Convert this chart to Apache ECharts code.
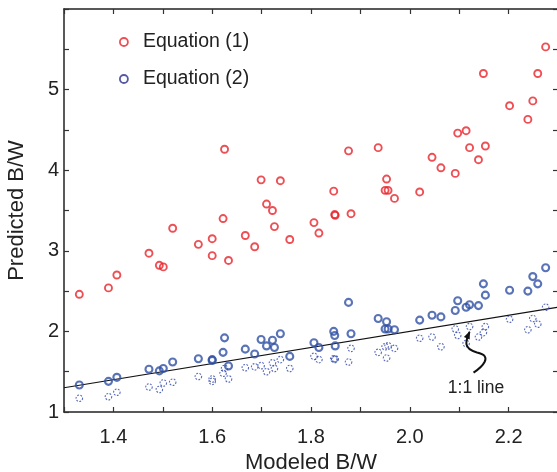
<!DOCTYPE html>
<html>
<head>
<meta charset="utf-8">
<script src="https://cdn.jsdelivr.net/npm/echarts@6/dist/echarts.min.js"></script>
<style>html,body{margin:0;padding:0;background:#fff}#c{width:557px;height:472px}</style>
</head>
<body>
<div id="c"></div>
<script>
// Modeled B/W (x) shared by all three sets
const modeled = [1.331,1.390,1.407,1.472,1.493,1.501,1.520,1.572,1.600,1.600,1.622,1.625,1.633,1.667,1.686,1.699,1.710,1.722,1.726,1.738,1.757,1.806,1.816,1.846,1.848,1.849,1.876,1.881,1.936,1.950,1.953,1.956,1.969,2.020,2.045,2.063,2.092,2.097,2.114,2.121,2.139,2.149,2.153,2.202,2.239,2.249,2.259,2.275];
// Predicted B/W, Equation (1)
const eq1 = [2.46,2.54,2.70,2.97,2.82,2.80,3.28,3.08,3.15,2.94,3.40,4.26,2.88,3.19,3.05,3.88,3.58,3.50,3.30,3.87,3.14,3.35,3.22,3.74,3.45,3.44,4.24,3.46,4.28,3.75,3.89,3.75,3.65,3.73,4.16,4.03,3.96,4.46,4.49,4.28,4.13,5.20,4.30,4.80,4.63,4.86,5.20,5.53];
// Predicted B/W, Equation (2)
const eq2 = [1.335,1.38,1.43,1.53,1.51,1.54,1.62,1.66,1.65,1.64,1.74,1.92,1.57,1.78,1.72,1.90,1.82,1.89,1.80,1.97,1.69,1.86,1.80,2.00,1.95,1.82,2.36,1.97,2.16,2.03,2.12,2.03,2.02,2.14,2.20,2.18,2.26,2.38,2.30,2.33,2.32,2.59,2.45,2.51,2.50,2.68,2.59,2.79];
// Predicted B/W, dotted (unlabelled) set
const eq3 = [1.17,1.19,1.245,1.31,1.28,1.36,1.37,1.44,1.41,1.38,1.48,1.54,1.41,1.55,1.56,1.575,1.50,1.61,1.54,1.65,1.54,1.69,1.65,1.66,1.65,1.66,1.62,1.79,1.74,1.81,1.67,1.82,1.79,1.915,1.93,1.81,2.03,1.95,1.85,2.06,1.93,1.985,2.06,2.15,2.02,2.16,2.09,2.30];
// 1:1 reference line
const oneToOne = [[1.3,1.3],[2.3,2.3]];
// annotation: squiggly arrow (data coords) and its label
const arrowPts = [[2.129,1.488],[2.146,1.559],[2.170,1.696],[2.136,1.739],[2.107,1.783],[2.113,1.882],[2.121,1.994]];
const arrowLabel = {text:'1:1 line', at:[2.134,1.298]};

const xTicks = ['1.4','1.6','1.8','2.0','2.2'];
const yTicks = ['1','2','3','4','5'];

const FONT = '"Liberation Sans", Arial, Helvetica, sans-serif';
const zip = (xs, ys) => xs.map((x,i)=>[x, ys[i]]);

const chart = echarts.init(document.getElementById('c'), null, {renderer:'canvas'});
const axisLine = {show:true, lineStyle:{color:'#222', width:1.5}};
const axisTick = {show:true, inside:true, length:5, lineStyle:{color:'#333', width:1.2}};

const xFmt = v => { const s=(Math.round(v*10)/10).toFixed(1); return xTicks.includes(s) ? s : ''; };
const yFmt = v => { const s=String(Math.round(v*2)/2); return yTicks.includes(s) ? s : ''; };

chart.setOption({
  animation:false,
  backgroundColor:'#fff',
  textStyle:{fontFamily:FONT},
  grid:{left:64, right:-1, top:9, bottom:60, containLabel:false, outerBoundsMode:'none'},
  legend:{
    data:[
      {name:'Equation (1)', itemStyle:{color:'transparent', borderColor:'#e8232b', borderWidth:1.8}},
      {name:'Equation (2)', itemStyle:{color:'transparent', borderColor:'#2b2f8c', borderWidth:1.8}}
    ],
    orient:'vertical', left:119, top:32, padding:0,
    itemWidth:8, itemHeight:8, itemGap:17,
    textStyle:{fontSize:19.5, color:'#222', fontFamily:FONT, lineHeight:20, padding:[0,0,0,10]},
    selectedMode:false
  },
  xAxis:[
    {type:'value', min:1.3, max:2.3, interval:0.1, position:'bottom',
     axisLine, axisTick, splitLine:{show:false},
     axisLabel:{formatter:xFmt, fontSize:20, color:'#222', margin:15, fontFamily:FONT},
     name:'Modeled B/W', nameLocation:'middle', nameGap:40,
     nameTextStyle:{fontSize:22, color:'#222', fontFamily:FONT}},
    {type:'value', min:1.3, max:2.3, interval:0.1, position:'top',
     axisLine, axisTick, splitLine:{show:false}, axisLabel:{show:false}}
  ],
  yAxis:[
    {type:'value', min:1, max:6, interval:0.5, position:'left',
     axisLine, axisTick, splitLine:{show:false},
     axisLabel:{formatter:yFmt, fontSize:20, color:'#222', margin:5, fontFamily:FONT},
     name:'Predicted B/W', nameLocation:'middle', nameGap:36, nameRotate:90,
     nameTextStyle:{fontSize:22, color:'#222', fontFamily:FONT}},
    {type:'value', min:1, max:6, interval:0.5, position:'right',
     axisLine, axisTick, splitLine:{show:false}, axisLabel:{show:false}}
  ],
  series:[
    {type:'line', data:oneToOne, showSymbol:false, symbol:'none', silent:true,
     lineStyle:{color:'#111', width:1.1}, z:1},
    {name:'dotted', type:'scatter', data:zip(modeled, eq3), symbol:'circle', symbolSize:6.5,
     itemStyle:{color:'transparent', borderColor:'#2d44aa', borderWidth:1.1, borderType:[1.8,1.4]}, z:2},
    {name:'Equation (2)', type:'scatter', data:zip(modeled, eq2), symbol:'circle', symbolSize:7,
     itemStyle:{color:'transparent', borderColor:'#2f50a4', borderWidth:2.1}, z:3},
    {name:'Equation (1)', type:'scatter', data:zip(modeled, eq1), symbol:'circle', symbolSize:7,
     itemStyle:{color:'transparent', borderColor:'#e8232b', borderWidth:1.9}, z:4},
    {type:'custom', silent:true, data:[[2.1,1.5]], z:5,
     renderItem:(params, api) => {
       const p = arrowPts.map(d => api.coord(d));
       const f = q => q[0].toFixed(2)+' '+q[1].toFixed(2);
       const d = 'M '+f(p[0])+' C '+f(p[1])+' '+f(p[2])+' '+f(p[3])+' C '+f(p[4])+' '+f(p[5])+' '+f(p[6]);
       const tip = p[6], prev = p[5];
       let dx = tip[0]-prev[0], dy = tip[1]-prev[1];
       const L = Math.hypot(dx,dy); dx/=L; dy/=L;
       const len = 7, hw = 3.2;
       const bx = tip[0]-dx*len, by = tip[1]-dy*len;
       const head = [[tip[0]+dx*1,tip[1]+dy*1],[bx - dy*hw, by + dx*hw],[bx + dy*hw, by - dx*hw]];
       const lp = api.coord(arrowLabel.at);
       return {type:'group', children:[
         {type:'path', shape:{pathData:d}, style:{stroke:'#111', lineWidth:2, fill:null}},
         {type:'polygon', shape:{points:head}, style:{fill:'#111'}},
         {type:'text', x:lp[0], y:lp[1], style:{text:arrowLabel.text, fontSize:17.5, fontFamily:FONT, fill:'#222', align:'center', verticalAlign:'middle'}}
       ]};
     }}
  ]
});
</script>
</body>
</html>
